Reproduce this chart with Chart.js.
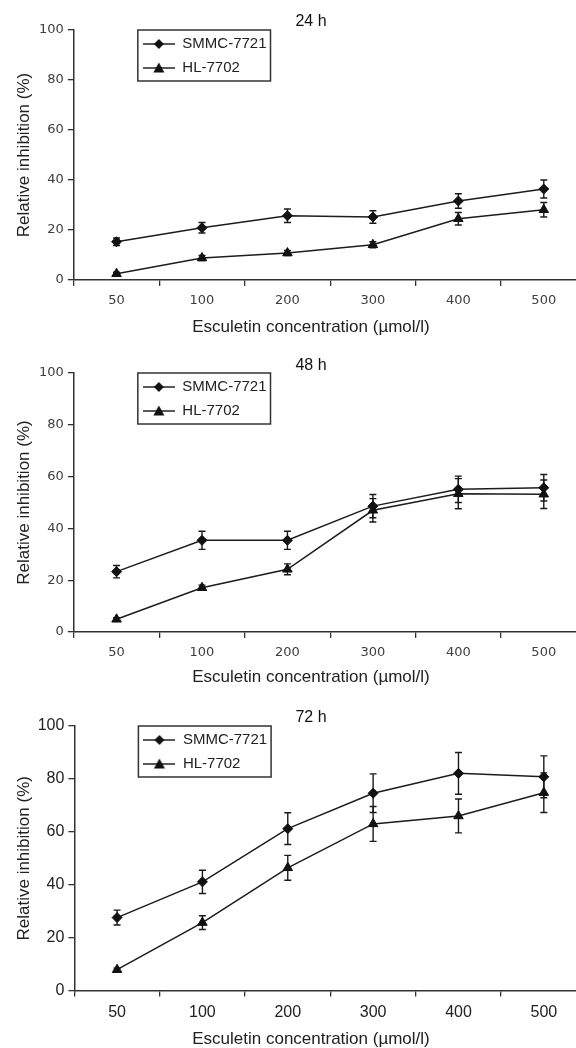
<!DOCTYPE html>
<html>
<head>
<meta charset="utf-8">
<script src="https://cdn.jsdelivr.net/npm/chart.js@4.4.1/dist/chart.umd.min.js"></script>
<style>
  html, body { margin: 0; padding: 0; background: #fff; overflow: hidden; }
  body { width: 576px; height: 1048px; position: relative; }
  canvas { position: absolute; left: 0; }
</style>
</head>
<body>
<canvas id="c24" width="622" height="340" style="top:0px"></canvas>
<canvas id="c48" width="622" height="350" style="top:340px"></canvas>
<canvas id="c72" width="622" height="358" style="top:690px"></canvas>
<script>
// concentrations (µmol/l)
const concentrations = ['50', '100', '200', '300', '400', '500'];

// 24 h
const smmc24 = [15.3, 20.9, 25.7, 25.2, 31.6, 36.4];
const smmc24Err = [1.5, 2.1, 2.7, 2.5, 2.9, 3.6];
const hl24 = [2.5, 8.8, 10.8, 14.1, 24.5, 28.1];
const hl24Err = [0.6, 1.0, 1.0, 1.2, 2.5, 2.9];

// 48 h
const smmc48 = [23.3, 35.4, 35.4, 48.6, 55.1, 55.7];
const smmc48Err = [2.4, 3.5, 3.5, 4.5, 5.1, 5.1];
const hl48 = [4.9, 17.1, 24.2, 47.0, 53.4, 53.2];
const hl48Err = [0.6, 1.0, 2.1, 4.5, 5.8, 5.5];

// 72 h
const smmc72 = [27.6, 41.1, 61.2, 74.6, 82.1, 80.8];
const smmc72Err = [2.8, 4.4, 6.0, 7.3, 7.9, 7.9];
const hl72 = [7.9, 25.7, 46.4, 63.0, 66.0, 74.8];
const hl72Err = [0.6, 2.6, 4.7, 6.6, 6.4, 7.5];

const yTicks = [0, 20, 40, 60, 80, 100];

const FONT = "'Liberation Sans', Arial, sans-serif";

// little line + marker icon for the legend
function legendIcon(style) {
  const c = document.createElement('canvas');
  c.width = 32; c.height = 14;
  const g = c.getContext('2d');
  g.strokeStyle = '#222';
  g.lineWidth = 1.5;
  g.beginPath(); g.moveTo(0, 7); g.lineTo(32, 7); g.stroke();
  g.fillStyle = '#111';
  g.beginPath();
  if (style === 'rectRot') {
    g.moveTo(16, 2); g.lineTo(21, 7); g.lineTo(16, 12); g.lineTo(11, 7);
  } else {
    g.moveTo(16, 1.5); g.lineTo(21.5, 11.5); g.lineTo(10.5, 11.5);
  }
  g.closePath(); g.fill();
  return c;
}
const icons = { rectRot: legendIcon('rectRot'), triangle: legendIcon('triangle') };

// vertical error bars, drawn with the y scale
const errorBars = {
  id: 'errorBars',
  beforeDatasetsDraw(chart) {
    const ctx = chart.ctx;
    const y = chart.scales.y;
    chart.data.datasets.forEach((ds, i) => {
      const meta = chart.getDatasetMeta(i);
      ctx.save();
      ctx.strokeStyle = '#1a1a1a';
      ctx.lineWidth = 1.4;
      meta.data.forEach((pt, j) => {
        const v = ds.data[j], e = ds.errors[j];
        const top = y.getPixelForValue(v + e);
        const bot = y.getPixelForValue(v - e);
        ctx.beginPath();
        ctx.moveTo(pt.x, top); ctx.lineTo(pt.x, bot);
        ctx.moveTo(pt.x - 3.5, top); ctx.lineTo(pt.x + 3.5, top);
        ctx.moveTo(pt.x - 3.5, bot); ctx.lineTo(pt.x + 3.5, bot);
        ctx.stroke();
      });
      ctx.restore();
    });
  }
};

// legend in the upper left of the plot with a frame; titles centred on the canvas
const layoutTweaks = {
  id: 'layoutTweaks',
  afterLayout(chart) {
    const lg = chart.legend, area = chart.chartArea;
    lg.left = area.left + 60;
    lg.right = area.right;
    lg.top = area.top - 2.5;
    lg.bottom = area.bottom;
    chart.boxes.forEach(b => {
      if (b.options && typeof b.options.text === 'string') {
        b.left = 0;
        b.right = chart.width;
      }
    });
  },
  afterDraw(chart) {
    const lg = chart.legend, area = chart.chartArea;
    if (!lg || !lg.legendHitBoxes.length) return;
    const hb = lg.legendHitBoxes;
    const left = hb[0].left - 5;
    const right = Math.max(...hb.map(h => h.left + h.width)) + 4;
    const ctx = chart.ctx;
    ctx.save();
    ctx.strokeStyle = '#333';
    ctx.lineWidth = 1.5;
    ctx.strokeRect(left, area.top, right - left, 51);
    ctx.restore();
  }
};

function makePanel(id, title, smmc, smmcErr, hl, hlErr, o) {
  const ctx = document.getElementById(id).getContext('2d');
  return new Chart(ctx, {
    type: 'line',
    data: {
      labels: concentrations,
      datasets: [
        {
          label: 'SMMC-7721', data: smmc, errors: smmcErr,
          borderColor: '#1c1c1c', borderWidth: 1.5,
          pointStyle: 'rectRot', pointRadius: 5,
          pointBackgroundColor: '#111', pointBorderColor: '#111', pointBorderWidth: 1,
          tension: 0, clip: false
        },
        {
          label: 'HL-7702', data: hl, errors: hlErr,
          borderColor: '#1c1c1c', borderWidth: 1.5,
          pointStyle: 'triangle', pointRadius: 5.5,
          pointBackgroundColor: '#111', pointBorderColor: '#111', pointBorderWidth: 1,
          tension: 0, clip: false
        }
      ]
    },
    options: {
      responsive: false,
      animation: false,
      layout: { padding: { left: 15, right: 35.5, top: 0, bottom: 0 } },
      plugins: {
        tooltip: { enabled: false },
        title: {
          display: true, text: title, color: '#111',
          font: { family: FONT, size: 16, weight: 'normal', lineHeight: 1 },
          padding: o.titlePad
        },
        subtitle: {
          display: true, position: 'bottom', text: 'Esculetin concentration (µmol/l)', color: '#222',
          font: { family: FONT, size: 17, weight: 'normal', lineHeight: 1 },
          padding: o.subPad
        },
        legend: {
          position: 'chartArea', align: 'start',
          labels: {
            usePointStyle: true, pointStyleWidth: 32, padding: 9, color: '#222',
            font: { family: FONT, size: 15, lineHeight: 1 },
            generateLabels(chart) {
              return Chart.defaults.plugins.legend.labels.generateLabels(chart).map(item => {
                item.pointStyle = icons[chart.data.datasets[item.datasetIndex].pointStyle];
                return item;
              });
            }
          }
        }
      },
      scales: {
        x: {
          type: 'category', offset: true,
          grid: { offset: true, drawOnChartArea: false, drawTicks: true, tickLength: 6, color: '#333', lineWidth: 1.3 },
          border: { color: '#333', width: 1.5 },
          ticks: { padding: o.xTickPad, color: o.tickColor, font: o.tickFont, maxRotation: 0 }
        },
        y: {
          min: 0, max: 100,
          afterBuildTicks(scale) { scale.ticks = yTicks.map(v => ({ value: v })); },
          grid: { drawOnChartArea: false, drawTicks: true, tickLength: 6, color: '#333', lineWidth: 1.3 },
          border: { color: '#333', width: 1.5 },
          ticks: { padding: 4, color: o.tickColor, font: o.tickFont },
          title: {
            display: true, text: 'Relative inhibition (%)', color: '#222',
            font: { family: FONT, size: 17, lineHeight: 1.1 },
            padding: { top: 0, bottom: o.yTitleGap }
          }
        }
      }
    },
    plugins: [errorBars, layoutTweaks]
  });
}

const smallTicks = { family: "'DejaVu Sans', Verdana, sans-serif", size: 13 };

makePanel('c24', '24 h', smmc24, smmc24Err, hl24, hl24Err, {
  titlePad: { top: 14, bottom: 0 }, subPad: { top: 2.9, bottom: 4.5 },
  xTickPad: 7, tickColor: '#3e3e3e', tickFont: smallTicks, yTitleGap: 1.3
});
makePanel('c48', '48 h', smmc48, smmc48Err, hl48, hl48Err, {
  titlePad: { top: 18, bottom: -1 }, subPad: { top: 0.9, bottom: 4.5 },
  xTickPad: 7, tickColor: '#3e3e3e', tickFont: smallTicks, yTitleGap: 1.3
});
makePanel('c72', '72 h', smmc72, smmc72Err, hl72, hl72Err, {
  titlePad: { top: 20, bottom: 0 }, subPad: { top: 2.4, bottom: 0 },
  xTickPad: 6.4, tickColor: '#222', tickFont: { family: FONT, size: 16 }, yTitleGap: 0
});
</script>
</body>
</html>
